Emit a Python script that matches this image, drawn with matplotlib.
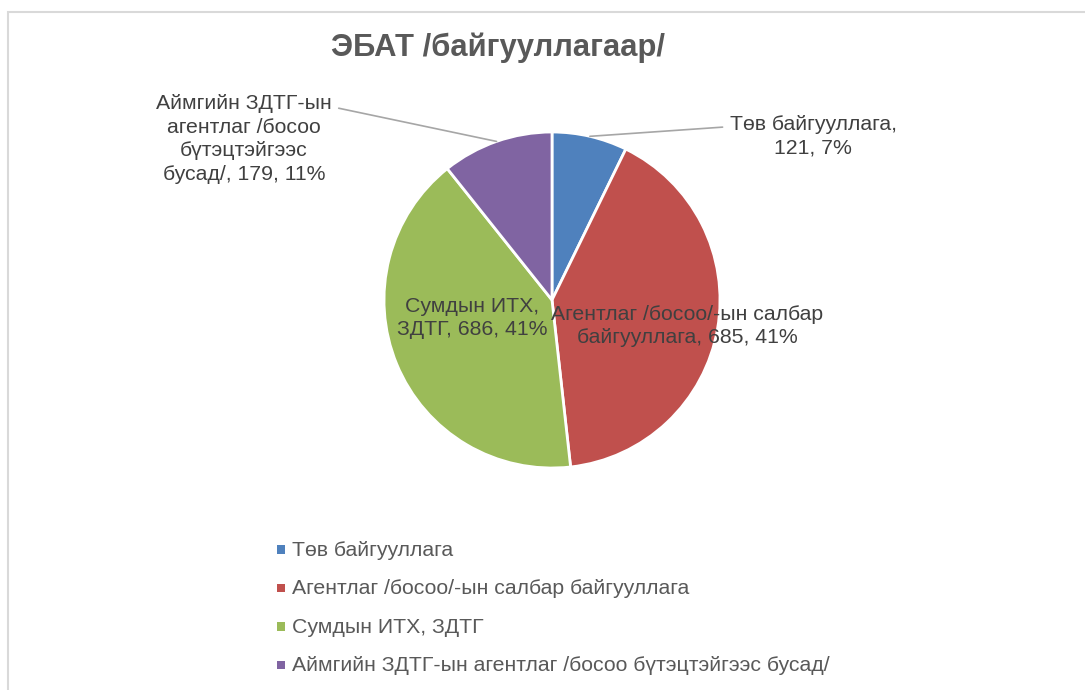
import numpy as np
import matplotlib
matplotlib.use("Agg")
import matplotlib.pyplot as plt
from matplotlib.patches import Rectangle

plt.rcParams["font.family"] = ["Liberation Sans", "DejaVu Sans"]

# data
categories = [
    "Төв байгууллага",
    "Агентлаг /босоо/-ын салбар байгууллага",
    "Сумдын ИТХ, ЗДТГ",
    "Аймгийн ЗДТГ-ын агентлаг /босоо бүтэцтэйгээс бусад/",
]
values = [121, 685, 686, 179]
colors = ["#4F81BD", "#C0504D", "#9BBB59", "#8064A2"]
label_texts = [
    "Төв байгууллага,\n121, 7%",
    "Агентлаг /босоо/-ын салбар\nбайгууллага, 685, 41%",
    "Сумдын ИТХ,\nЗДТГ, 686, 41%",
    "Аймгийн ЗДТГ-ын\nагентлаг /босоо\nбүтэцтэйгээс\nбусад/, 179, 11%",
]

W, H = 1085, 690
fig = plt.figure(figsize=(W / 100, H / 100), dpi=100)
ax = fig.add_axes([0, 0, 1, 1])

cx, cy, r = 552, H - 300, 168
wedges, _ = ax.pie(
    values,
    colors=colors,
    startangle=90,
    counterclock=False,
    center=(cx, cy),
    radius=r,
    frame=True,
    wedgeprops=dict(edgecolor="white", linewidth=2),
)
ax.set_xlim(0, W)
ax.set_ylim(0, H)
ax.set_aspect("equal")
ax.axis("off")

# chart frame
ax.add_patch(Rectangle((8, -20), W + 20, H - 12 + 20, fill=False,
                       edgecolor="#d9d9d9", linewidth=1.5, clip_on=False))

ax.text(498, H - 48, "ЭБАТ /байгууллагаар/", ha="center", va="center",
        fontsize=22.3, fontweight="bold", color="#595959")

lbl = dict(fontsize=15.3, color="#404040", ha="center", va="center",
           linespacing=1.3)

# labels inside
ax.text(687, H - 326, label_texts[1], **lbl)
ax.text(472, H - 318, label_texts[2], **lbl)

# outside labels with leader lines from wedge midpoints
total = sum(values)
mids = []
start = 90.0
for v in values:
    sweep = v / total * 360
    mids.append(np.deg2rad(start - sweep / 2))
    start -= sweep

for i, pos, rel in [(0, (813, H - 136), (0.0, 0.72)),
                    (3, (244, H - 139), (1.0, 0.86))]:
    xy = (cx + r * np.cos(mids[i]), cy + r * np.sin(mids[i]))
    ax.annotate(label_texts[i], xy=xy, xytext=pos, textcoords="data",
                arrowprops=dict(arrowstyle="-", color="#a6a6a6", lw=1.2,
                                shrinkA=3, shrinkB=0, relpos=rel),
                **lbl)

leg = ax.legend(wedges, categories, loc="upper left",
                bbox_to_anchor=(266 / W, 1 - 530 / H), frameon=False,
                fontsize=15.3, handlelength=0.42, handleheight=0.42,
                handletextpad=0.3, labelspacing=0.92, borderpad=0)
for t in leg.get_texts():
    t.set_color("#595959")
for h in leg.legend_handles:
    h.set_edgecolor("none")
    h.set_width(6)
    h.set_height(6)

fig.savefig("out.png", dpi=100)
